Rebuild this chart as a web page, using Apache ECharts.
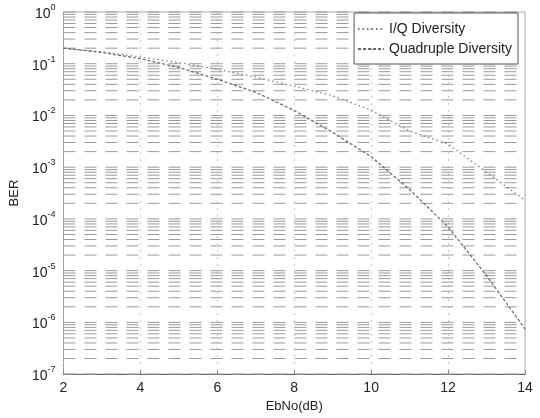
<!DOCTYPE html>
<html>
<head>
<meta charset="utf-8">
<script src="https://cdn.jsdelivr.net/npm/echarts@6/dist/echarts.min.js"></script>
<style>html,body{margin:0;padding:0;background:#fff}#c{width:540px;height:418px}</style>
</head>
<body>
<div id="c"></div>
<script>
const xValues = [2, 3, 4, 5, 6, 7, 8, 9, 10, 11, 12, 13, 14];
const iqBER = [0.2, 0.17, 0.135, 0.105, 0.078, 0.055, 0.037, 0.024, 0.0126, 0.005, 0.0028, 0.0008, 0.00023];
const quadBER = [0.2, 0.165, 0.125, 0.085, 0.05, 0.028, 0.0125, 0.0047, 0.0016, 0.00037, 0.00007, 0.000008, 0.00000075];
const xTicks = [2, 4, 6, 8, 10, 12, 14];
const yExponents = [0, -1, -2, -3, -4, -5, -6, -7];
const seriesNames = ['I/Q Diversity', 'Quadruple Diversity'];

const gridValues = [];
yExponents.forEach(function (e) {
  gridValues.push(Math.pow(10, e));
  if (e <= -7) return;
  for (let m = 2; m <= 9; m++) gridValues.push(m * Math.pow(10, e - 1));
});

const font = 'Liberation Sans, Arial, sans-serif';
const chart = echarts.init(document.getElementById('c'), null, { renderer: 'canvas' });
chart.setOption({
  animation: false,
  backgroundColor: '#fff',
  grid: { left: 58, right: 15, top: 12, bottom: 39, show: true, borderColor: '#aaa', borderWidth: 1 },
  legend: {
    data: seriesNames,
    orient: 'vertical',
    right: 22, top: 13,
    itemWidth: 26, itemHeight: 2, itemGap: 6,
    padding: [9, 6, 8, 3],
    borderColor: '#555', borderWidth: 1, backgroundColor: '#fff',
    textStyle: { fontFamily: font, fontSize: 14, color: '#222' }
  },
  xAxis: {
    type: 'value', min: 2, max: 14, interval: 2,
    name: 'EbNo(dB)', nameLocation: 'middle', nameGap: 25,
    nameTextStyle: { fontFamily: font, fontSize: 13, color: '#222' },
    axisLine: { lineStyle: { color: '#666' } },
    axisTick: { show: true, inside: true, length: 4, lineStyle: { color: '#888' } },
    axisLabel: { fontFamily: font, fontSize: 14, color: '#222', margin: 7,
      formatter: function (v) { return xTicks.indexOf(v) >= 0 ? String(v) : ''; } },
    splitLine: { show: true, lineStyle: { color: '#c8c8c8', type: [2, 5], width: 1 } }
  },
  yAxis: {
    type: 'log', logBase: 10, min: 1e-7, max: 1, interval: 1,
    name: 'BER', nameLocation: 'middle', nameGap: 36, nameRotate: 90,
    nameTextStyle: { fontFamily: font, fontSize: 13, color: '#222' },
    axisLine: { show: true, lineStyle: { color: '#999', type: [2, 2] } },
    axisTick: { show: false },
    axisLabel: {
      margin: 8,
      formatter: function (v) {
        const e = Math.round(Math.log10(v));
        return '{b|10}{s|' + e + '}';
      },
      rich: {
        b: { fontFamily: font, fontSize: 14, color: '#222', verticalAlign: 'bottom' },
        s: { fontFamily: font, fontSize: 9, color: '#222', verticalAlign: 'top', padding: [0, 0, 9, 0] }
      }
    },
    splitLine: { show: false }
  },
  series: [
    {
      name: '__grid', type: 'custom', silent: true, z: 1,
      encode: { x: 0, y: 1 },
      data: gridValues.map(function (v) { return [2, v]; }),
      renderItem: function (params, api) {
        const v = api.value(1);
        const p0 = api.coord([2, v]);
        const p1 = api.coord([14, v]);
        return {
          type: 'line',
          shape: { x1: p0[0], y1: p0[1], x2: p1[0], y2: p1[1] },
          style: { stroke: '#9a9a9a', lineWidth: 1, lineDash: [12, 9] }
        };
      }
    },
    {
      name: seriesNames[0], type: 'line', symbol: 'none', z: 5,
      lineStyle: { color: '#777', width: 1.2, type: [1.5, 3] },
      itemStyle: { color: '#777' },
      data: xValues.map(function (x, i) { return [x, iqBER[i]]; })
    },
    {
      name: seriesNames[1], type: 'line', symbol: 'none', z: 5,
      lineStyle: { color: '#666', width: 1.2, type: [3, 2] },
      itemStyle: { color: '#666' },
      data: xValues.map(function (x, i) { return [x, quadBER[i]]; })
    }
  ]
});
</script>
</body>
</html>
